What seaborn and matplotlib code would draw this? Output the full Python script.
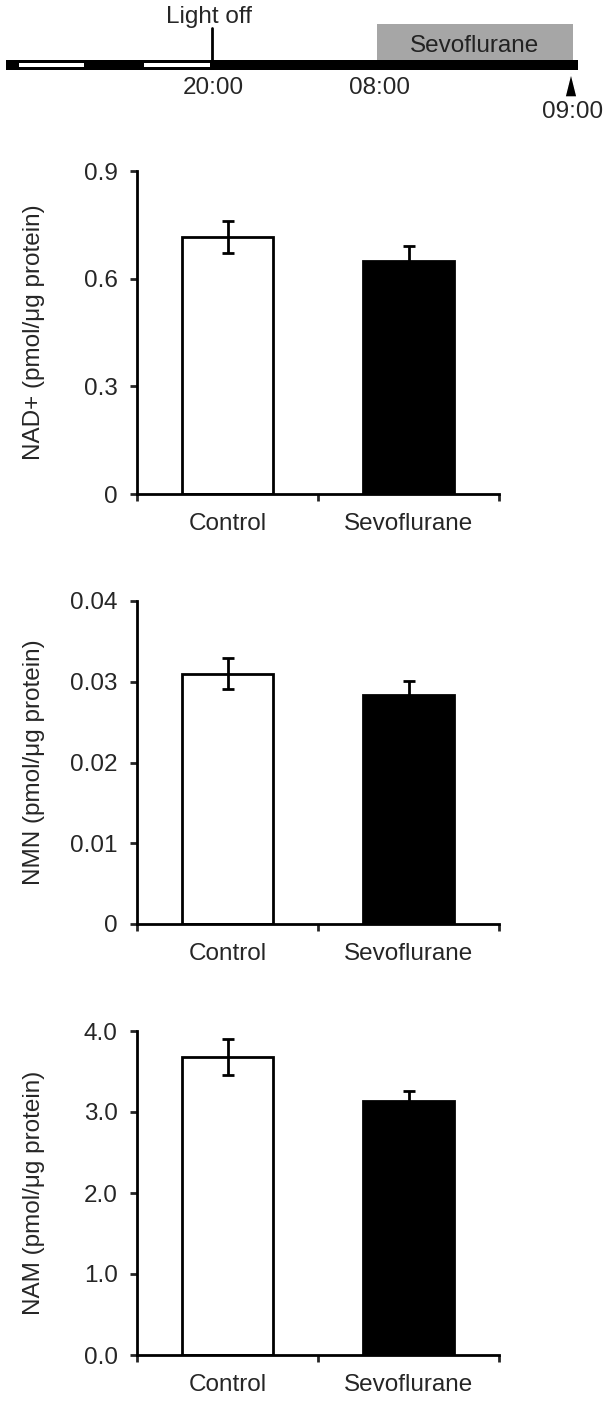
import numpy as np
import pandas as pd
import seaborn as sns
import matplotlib.pyplot as plt
from matplotlib.patches import Rectangle, Polygon

sns.set_theme(style='ticks')
plt.rcParams['font.family'] = ['Liberation Sans', 'DejaVu Sans']

groups = ['Control', 'Sevoflurane']
bar_colors = ['white', 'black']

nad_mean = [0.716, 0.649]
nad_sem = [0.045, 0.043]
nmn_mean = [0.0310, 0.0283]
nmn_sem = [0.0019, 0.0018]
nam_mean = [3.68, 3.14]
nam_sem = [0.22, 0.12]

panels = [
    ('NAD+ (pmol/\u03bcg protein)', nad_mean, nad_sem, [0, 0.3, 0.6, 0.9], ['0', '0.3', '0.6', '0.9']),
    ('NMN (pmol/\u03bcg protein)', nmn_mean, nmn_sem, [0, 0.01, 0.02, 0.03, 0.04], ['0', '0.01', '0.02', '0.03', '0.04']),
    ('NAM (pmol/\u03bcg protein)', nam_mean, nam_sem, [0, 1, 2, 3, 4], ['0.0', '1.0', '2.0', '3.0', '4.0']),
]

FS = 17.5
W, H = 609, 1401
fig = plt.figure(figsize=(W / 100, H / 100), dpi=100)

# --- schematic timeline at the top (pixel coordinates) ---
tl = fig.add_axes([0, 1 - 130 / H, 1, 130 / H])
tl.set_xlim(0, W)
tl.set_ylim(130, 0)
tl.axis('off')
tl.add_patch(Rectangle((377, 24), 196, 36, facecolor='#a6a6a6', edgecolor='none'))
tl.text(475, 52, 'Sevoflurane', ha='center', va='baseline', fontsize=FS, color='#222222')
tl.add_patch(Rectangle((6, 60), 572, 10, facecolor='black', edgecolor='none'))
for x0, x1 in [(19, 84), (144, 210)]:
    tl.add_patch(Rectangle((x0, 62.5), x1 - x0, 4, facecolor='white', edgecolor='none'))
tl.plot([212, 212], [28, 60], color='black', lw=2)
tl.text(209, 23.5, 'Light off', ha='center', va='baseline', fontsize=FS)
tl.text(213, 94, '20:00', ha='center', va='baseline', fontsize=FS)
tl.text(379, 94, '08:00', ha='center', va='baseline', fontsize=FS)
tl.add_patch(Polygon([[571, 73], [565, 97], [577, 97]], closed=True, facecolor='black'))
tl.text(573, 118, '09:00', ha='center', va='baseline', fontsize=FS)

# --- bar panels ---
left, width = 137 / W, 362 / W
tops = [171, 601, 1031]
bottoms = [494, 924, 1355]

for (ylabel, means, sems, yticks, yticklabels), top, bot in zip(panels, tops, bottoms):
    ax = fig.add_axes([left, 1 - bot / H, width, (bot - top) / H])
    df = pd.DataFrame({'group': groups, 'value': means})
    sns.barplot(data=df, x='group', y='value', hue='group', palette=bar_colors,
                edgecolor='black', linewidth=2, width=0.5, legend=False, ax=ax)
    for i, (m, s) in enumerate(zip(means, sems)):
        ax.errorbar(i, m, yerr=s, fmt='none', ecolor='black', elinewidth=2,
                    capsize=4, capthick=2, zorder=3)
    ax.set_xlim(-0.5, 1.5)
    ax.set_ylim(yticks[0], yticks[-1])
    ax.set_yticks(yticks)
    ax.set_yticklabels(yticklabels)
    ax.set_xticks([-0.5, 0.5, 1.5])
    ax.set_xticklabels([])
    ax.set_xticks([0, 1], minor=True)
    ax.set_xticklabels(groups, minor=True)
    ax.tick_params(axis='x', which='minor', length=0, pad=14, labelsize=FS)
    ax.tick_params(axis='x', which='major', length=5, width=2, direction='out')
    ax.tick_params(axis='y', length=5, width=2, direction='out', pad=9, labelsize=FS)
    sns.despine(ax=ax)
    for sp in ['left', 'bottom']:
        ax.spines[sp].set_linewidth(2)
        ax.spines[sp].set_color('black')
    ax.set_xlabel('')
    ax.set_ylabel(ylabel, fontsize=FS)
    ax.yaxis.set_label_coords(-0.254, 0.5)

fig.savefig('out.png', dpi=100)
